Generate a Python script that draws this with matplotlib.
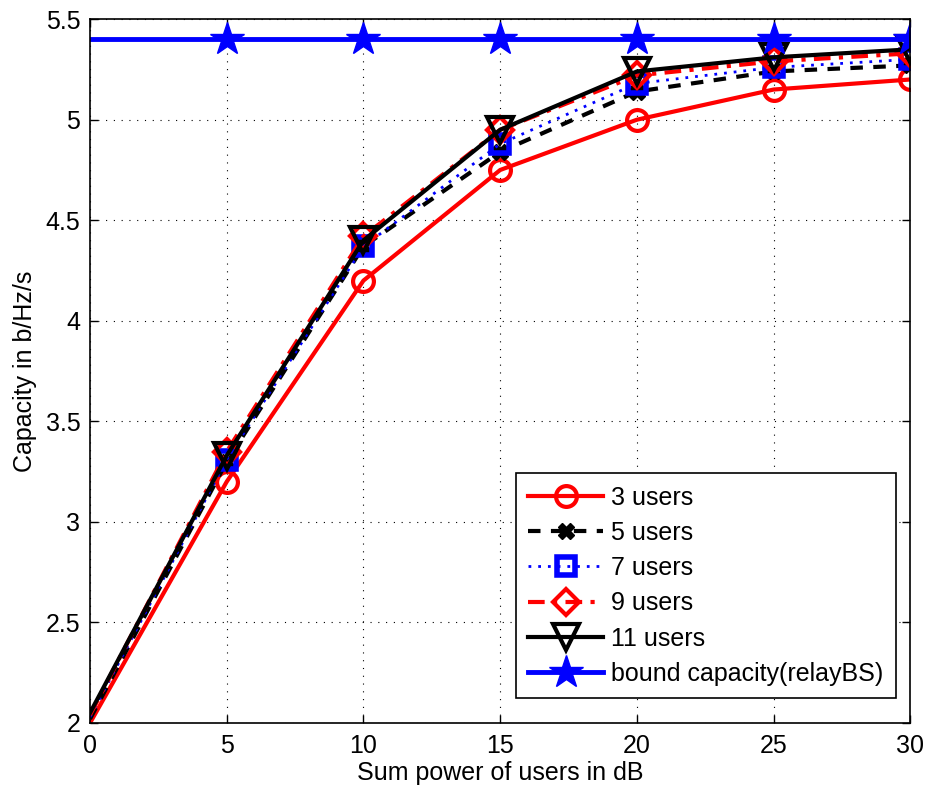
import matplotlib
matplotlib.use("Agg")
import matplotlib.pyplot as plt

plt.rcParams['font.family'] = ['Liberation Sans', 'DejaVu Sans']

power_db = [0, 5, 10, 15, 20, 25, 30]
cap_3 = [2.00, 3.20, 4.20, 4.75, 5.00, 5.15, 5.20]
cap_5 = [2.02, 3.30, 4.37, 4.84, 5.14, 5.24, 5.27]
cap_7 = [2.03, 3.31, 4.37, 4.88, 5.18, 5.26, 5.30]
cap_9 = [2.04, 3.35, 4.42, 4.95, 5.22, 5.29, 5.33]
cap_11 = [2.05, 3.33, 4.40, 4.95, 5.24, 5.31, 5.35]
cap_bound = [5.4] * 7

x_ticks = [0, 5, 10, 15, 20, 25, 30]
y_ticks = [2, 2.5, 3, 3.5, 4, 4.5, 5, 5.5]
y_labels = ['2', '2.5', '3', '3.5', '4', '4.5', '5', '5.5']

fig = plt.figure(figsize=(9.28, 7.98), dpi=100)
ax = fig.add_axes([0.097, 0.094, 0.884, 0.882])

me = slice(1, None)
ax.plot(power_db, cap_3, color='red', lw=3, ls='-', marker='o', ms=15,
        mfc='none', mew=3, markevery=me, label='3 users')
ax.plot(power_db, cap_5, color='black', lw=3, ls=(0, (3, 2.5)), marker='X', ms=11,
        mfc='black', mew=1, markevery=me, label='5 users')
ax.plot(power_db, cap_7, color='blue', lw=2, ls=(0, (1, 2.5)), marker='s', ms=13,
        mfc='none', mew=4, markevery=me, label='7 users')
ax.plot(power_db, cap_9, color='red', lw=3, ls=(0, (4, 2, 1, 2)), marker='D', ms=13,
        mfc='none', mew=3, markevery=me, label='9 users')
ax.plot(power_db, cap_11, color='black', lw=3, ls='-', marker='v', ms=19,
        mfc='none', mew=3, markevery=me, label='11 users')
ax.plot(power_db, cap_bound, color='blue', lw=3.5, ls='-', marker='*', ms=25,
        mfc='blue', mew=1, markevery=me, label='bound capacity(relayBS)')

ax.set_xlim(0, 30)
ax.set_ylim(2, 5.5)
ax.set_xticks(x_ticks)
ax.set_yticks(y_ticks)
ax.set_yticklabels(y_labels)
ax.tick_params(direction='in', labelsize=18, length=6, width=1, top=True, right=True)
ax.tick_params(axis='x', pad=8)
ax.tick_params(axis='y', pad=7)
ax.grid(True, color='black', ls=(0, (1, 6)), lw=0.8)
for s in ax.spines.values():
    s.set_linewidth(1.2)

ax.set_xlabel('Sum power of users in dB', fontsize=18, labelpad=2)
ax.set_ylabel('Capacity in b/Hz/s', fontsize=18, labelpad=6)

leg = ax.legend(loc='lower right', bbox_to_anchor=(0.982, 0.035), fontsize=18,
                handlelength=3.0, handletextpad=0.3, frameon=True,
                fancybox=False, edgecolor='black', framealpha=1,
                borderaxespad=0, labelspacing=0.45, borderpad=0.5)
leg.get_frame().set_linewidth(1.2)

fig.savefig('out.png', dpi=100)
